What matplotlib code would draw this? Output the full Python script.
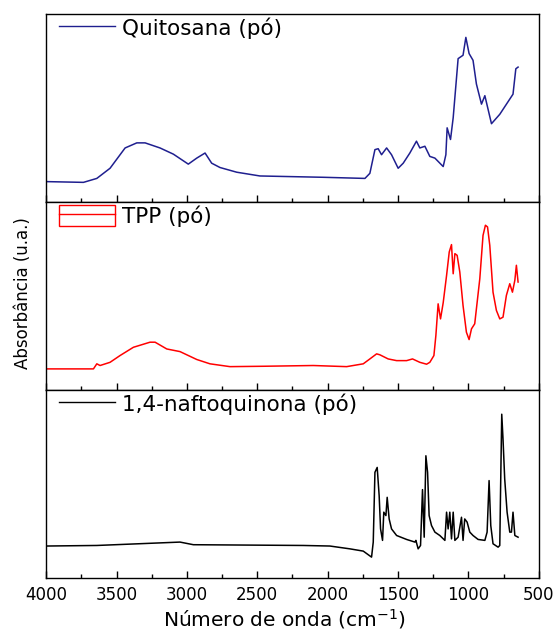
import matplotlib
matplotlib.use("Agg")
import matplotlib.pyplot as plt
from matplotlib.patches import Patch
from matplotlib.lines import Line2D
from matplotlib.ticker import MultipleLocator

plt.rcParams['font.family'] = ['DejaVu Sans']

# Quitosana (pó)
quit_wn = [4000, 3735, 3640, 3546, 3439, 3356, 3297, 3191, 3096, 2990, 2930, 2871, 2824,
           2765, 2646, 2481, 2031, 1735, 1700, 1664, 1641, 1617, 1581, 1546, 1499, 1463,
           1416, 1369, 1345, 1309, 1274, 1238, 1179, 1160, 1151, 1127, 1108, 1073, 1038,
           1018, 995, 967, 943, 907, 883, 836, 777, 683, 663, 647]
quit_abs = [0.108, 0.104, 0.125, 0.179, 0.287, 0.314, 0.314, 0.287, 0.254, 0.201, 0.233,
            0.260, 0.206, 0.183, 0.158, 0.138, 0.131, 0.125, 0.152, 0.278, 0.283, 0.251,
            0.287, 0.251, 0.179, 0.206, 0.260, 0.323, 0.287, 0.296, 0.242, 0.233, 0.188,
            0.251, 0.394, 0.332, 0.448, 0.762, 0.780, 0.875, 0.789, 0.753, 0.627, 0.520,
            0.565, 0.416, 0.466, 0.573, 0.708, 0.717]

# TPP (pó)
tpp_wn = [4000, 3664, 3640, 3617, 3546, 3475, 3380, 3262, 3226, 3143, 3049, 2930, 2836,
          2694, 2457, 2102, 1865, 1747, 1700, 1652, 1629, 1570, 1510, 1439, 1397, 1345,
          1297, 1274, 1245, 1231, 1215, 1198, 1179, 1155, 1136, 1120, 1108, 1096, 1080,
          1061, 1038, 1014, 995, 978, 955, 919, 896, 879, 864, 848, 825, 801, 777, 754,
          730, 706, 687, 670, 659, 647]
tpp_abs = [0.112, 0.112, 0.139, 0.130, 0.147, 0.183, 0.227, 0.254, 0.254, 0.218, 0.204,
           0.162, 0.139, 0.124, 0.126, 0.130, 0.124, 0.139, 0.165, 0.192, 0.187, 0.165,
           0.156, 0.156, 0.165, 0.147, 0.137, 0.147, 0.183, 0.290, 0.458, 0.378, 0.464,
           0.609, 0.734, 0.773, 0.618, 0.725, 0.716, 0.627, 0.449, 0.307, 0.268, 0.325,
           0.352, 0.591, 0.822, 0.876, 0.867, 0.769, 0.520, 0.423, 0.378, 0.387, 0.503,
           0.565, 0.520, 0.583, 0.663, 0.574]

# 1,4-naftoquinona (pó)
naf_wn = [4000, 3640, 3049, 2954, 2173, 1984, 1842, 1747, 1688, 1676, 1664, 1648, 1634,
          1624, 1610, 1601, 1586, 1577, 1563, 1546, 1510, 1439, 1380, 1373, 1357, 1340,
          1326, 1314, 1302, 1290, 1279, 1262, 1238, 1203, 1167, 1155, 1144, 1132, 1120,
          1108, 1096, 1073, 1049, 1038, 1026, 1009, 990, 967, 931, 883, 867, 853, 841,
          825, 789, 777, 772, 763, 754, 742, 725, 706, 694, 683, 670, 647]
naf_abs = [0.170, 0.173, 0.191, 0.177, 0.173, 0.170, 0.155, 0.143, 0.111, 0.191, 0.562,
           0.588, 0.438, 0.261, 0.200, 0.350, 0.332, 0.429, 0.314, 0.261, 0.226, 0.205,
           0.191, 0.200, 0.155, 0.173, 0.470, 0.217, 0.650, 0.562, 0.332, 0.279, 0.244,
           0.226, 0.200, 0.350, 0.261, 0.350, 0.208, 0.350, 0.200, 0.217, 0.323, 0.200,
           0.314, 0.297, 0.244, 0.226, 0.205, 0.200, 0.244, 0.518, 0.279, 0.182, 0.164,
           0.173, 0.438, 0.871, 0.739, 0.527, 0.350, 0.244, 0.244, 0.350, 0.226, 0.217]

series = [
    (quit_wn, quit_abs, '#1f1f8f', 'Quitosana (pó)'),
    (tpp_wn, tpp_abs, '#ff0000', 'TPP (pó)'),
    (naf_wn, naf_abs, '#000000', '1,4-naftoquinona (pó)'),
]

fig, axes = plt.subplots(3, 1, figsize=(5.56, 6.31), dpi=100, sharex=True)
fig.subplots_adjust(left=0.083, right=0.969, bottom=0.084, top=0.978, hspace=0)

for i, (ax, (wn, ab, col, lab)) in enumerate(zip(axes, series)):
    ax.plot(wn, ab, color=col, lw=1.1)
    ax.set_xlim(4000, 500)
    ax.set_ylim(0, 1)
    ax.set_yticks([])
    ax.xaxis.set_major_locator(MultipleLocator(500))
    ax.xaxis.set_minor_locator(MultipleLocator(250))
    ax.tick_params(axis='x', which='major', direction='in', length=5, width=1,
                   labelsize=12, pad=6)
    ax.tick_params(axis='x', which='minor', direction='in', length=3, width=1)
    for s in ax.spines.values():
        s.set_linewidth(1.0)
    # legenda do TPP tem caixa com linha, como no Origin
    if i == 1:
        handle = (Patch(facecolor='none', edgecolor=col, lw=1), Line2D([], [], color=col, lw=1))
    else:
        handle = Line2D([], [], color=col, lw=1)
    ax.legend([handle], [lab], loc='center left', bbox_to_anchor=(0.026, 0.926),
              frameon=False, fontsize=15.5, handlelength=2.6, handleheight=1.1,
              handletextpad=0.35, borderpad=0, borderaxespad=0)

fig.text(0.512, 0.008, 'Número de onda (cm$^{-1}$)', fontsize=14.5,
         ha='center', va='baseline')
fig.text(0.042, 0.536, 'Absorbância (u.a.)', rotation=90, fontsize=12,
         va='center', ha='center')

fig.savefig('out.png', dpi=100)
